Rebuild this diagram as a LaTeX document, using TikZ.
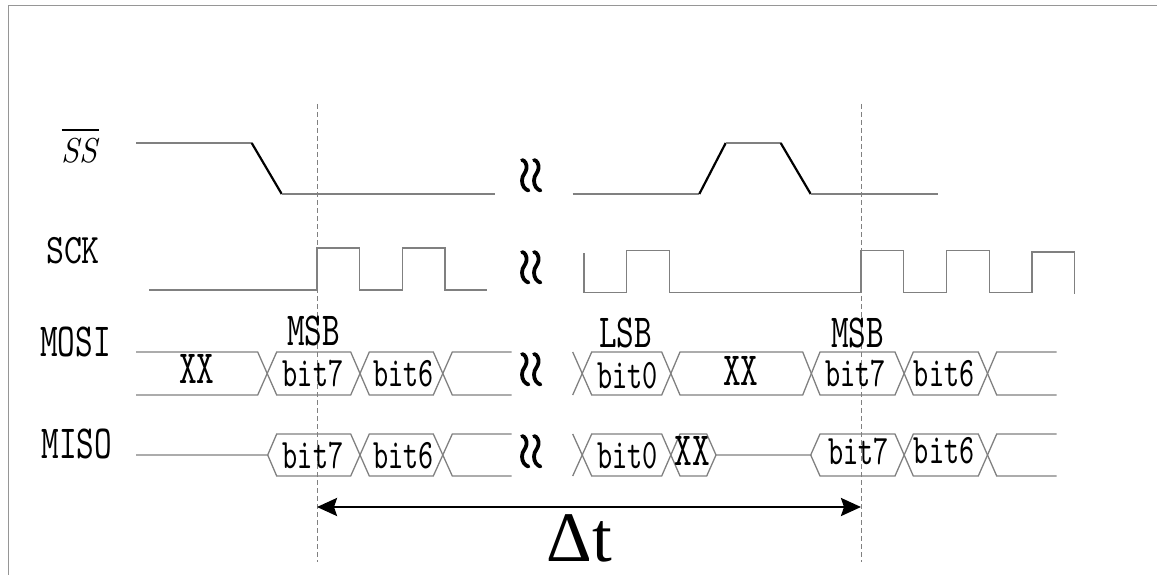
\documentclass[tikz,border=0pt]{standalone}
\usepackage{fontspec}
\usepackage{graphicx}
\usetikzlibrary{arrows.meta}
\newfontfamily\dtfont{Liberation Serif}
\newcommand{\mylbl}[1]{\scalebox{3.36}[4.75]{\normalsize\ttfamily #1}}
\newcommand{\mysck}[1]{\scalebox{3.42}[4.2]{\normalsize\ttfamily #1}}
\newcommand{\mybit}[1]{\scalebox{2.88}[4.2]{\normalsize\ttfamily #1}}
\newcommand{\myss}[1]{\scalebox{3.2}[3.45]{\normalsize\itshape #1}}
\definecolor{siggray}{RGB}{128,128,128}
\definecolor{framegray}{RGB}{150,150,150}
\tikzset{
  sig/.style={draw=siggray, line width=1.3pt, line join=miter},
  edgeline/.style={draw=black, line width=2.2pt},
  guide/.style={draw=siggray, line width=1pt, dash pattern=on 5pt off 3pt},
  frameline/.style={draw=framegray, line width=1pt},
  txt/.style={inner sep=0pt, anchor=base, text=black},
  brk/.pic={
    \draw[line width=3.8pt, line cap=round, black]
      (0,0) .. controls (3,0.5) and (5,4) .. (4.5,8.5)
            .. controls (4,13) and (0,15) .. (0,20.5)
            .. controls (0,26) and (3,29.5) .. (6.5,30.5);
  }
}
\begin{document}
\begin{tikzpicture}[x=1pt, y=-1pt]
\useasboundingbox (0,0) rectangle (1157,575);
% frame
\draw[frameline] (8,575) -- (8,6) -- (1157,6);

% guides
\draw[guide] (317,104) -- (317,562);
\draw[guide] (861,104) -- (861,562);

% labels
\node[txt] (ss) at (79.5,162.3) {\myss{SS}};
\draw[black, line width=1.4pt] (61.7,130) -- (99.3,130);
\node[txt] (sck) at (73,263.3) {\mysck{SCK}};
\node[txt] (mosi) at (75.5,356.7) {\mylbl{MOSI}};
\node[txt] (miso) at (76.7,458.3) {\mylbl{MISO}};

% SS waveform
\draw[sig] (136,143) -- (251.7,143);
\draw[edgeline] (251.7,143) -- (281.7,194);
\draw[sig] (281.7,194) -- (495,194);
\draw[sig] (572.7,194) -- (699.3,194);
\draw[edgeline] (699.3,194) -- (725.7,143);
\draw[sig] (725.7,143) -- (780.7,143);
\draw[edgeline] (780.7,143) -- (810.7,194);
\draw[sig] (810.7,194) -- (937.7,194);

% SCK waveform
\draw[sig] (149.3,290) -- (317,290) -- (317,248) -- (359.3,248) -- (359.3,290)
  -- (402.3,290) -- (402.3,248) -- (445,248) -- (445,290) -- (487.3,290);
\draw[sig] (584,253) -- (584,292.5) -- (626.7,292.5) -- (626.7,250.5) -- (669.3,250.5)
  -- (669.3,292.5) -- (861,292.5) -- (861,250.5) -- (903.3,250.5) -- (903.3,292.5)
  -- (946.7,292.5) -- (946.7,250.5) -- (989.3,250.5) -- (989.3,292.5) -- (1032,292.5)
  -- (1032,252) -- (1074.3,252) -- (1074.3,294);

% MOSI waveform (T=352, B=395)
\draw[sig] (136,352) -- (257.7,352) -- (276.7,395) -- (350.7,395) -- (369.3,352)
  -- (433.3,352) -- (452.3,395) -- (511.7,395);
\draw[sig] (136,395) -- (257.7,395) -- (276.7,352) -- (350.7,352) -- (369.3,395)
  -- (433.3,395) -- (452.3,352) -- (511.7,352);
\draw[sig] (572.7,352) -- (591.7,395) -- (661.7,395) -- (680,352) -- (802.7,352)
  -- (820,395) -- (895,395) -- (913.3,352) -- (978.3,352) -- (996.7,395) -- (1056.7,395);
\draw[sig] (572.7,395) -- (591.7,352) -- (661.7,352) -- (680,395) -- (802.7,395)
  -- (820,352) -- (895,352) -- (913.3,395) -- (978.3,395) -- (996.7,352) -- (1056.7,352);

% MISO waveform (T=434, B=476, M=455)
\draw[sig] (136,455) -- (267.7,455) -- (276.7,434) -- (350.7,434) -- (369.3,476)
  -- (433.3,476) -- (452.3,434) -- (511.7,434);
\draw[sig] (267.7,455) -- (276.7,476) -- (350.7,476) -- (369.3,434)
  -- (433.3,434) -- (452.3,476) -- (511.7,476);
\draw[sig] (572.7,434) -- (591.7,476) -- (661.7,476) -- (680,434) -- (706.7,434)
  -- (716,455) -- (810.7,455) -- (820,434) -- (895,434) -- (913.3,476)
  -- (978.3,476) -- (996.7,434) -- (1056.7,434);
\draw[sig] (572.7,476) -- (591.7,434) -- (661.7,434) -- (680,476) -- (706.7,476)
  -- (716,455);
\draw[sig] (810.7,455) -- (820,476) -- (895,476) -- (913.3,434) -- (978.3,434)
  -- (996.7,476) -- (1056.7,476);

% break marks
\foreach \yy in {160,252,354,436}{
  \pic at (522,\yy) {brk};
  \pic at (534,\yy) {brk};
}

% data texts
\node[txt] (msbl) at (313.7,345) {\mylbl{MSB}};
\node[txt] (lsb) at (625.8,347) {\mylbl{LSB}};
\node[txt] (msbr) at (857.8,347) {\mylbl{MSB}};
\node[txt] (xxa) at (196.7,383.3) {\mylbl{XX}};
\node[txt] (xxb) at (740.8,385) {\mylbl{XX}};
\node[txt] (xxc) at (692.5,465) {\mylbl{XX}};
\node[txt] (mo7a) at (313,386.7) {\mybit{bit7}};
\node[txt] (mo6a) at (403.3,386.7) {\mybit{bit6}};
\node[txt] (mo0) at (627.5,388) {\mybit{bit0}};
\node[txt] (mo7b) at (855.8,386) {\mybit{bit7}};
\node[txt] (mo6b) at (944.2,386) {\mybit{bit6}};
\node[txt] (mi7a) at (313,468) {\mybit{bit7}};
\node[txt] (mi6a) at (403.3,468) {\mybit{bit6}};
\node[txt] (mi0) at (627.5,468) {\mybit{bit0}};
\node[txt] (mi7b) at (858.3,464) {\mybit{bit7}};
\node[txt] (mi6b) at (944.2,463) {\mybit{bit6}};

% delta t
\coordinate (dl) at (317,507);
\coordinate (dr) at (861,507);
\draw[black, line width=2.6pt, {Stealth[length=20pt,width=18pt,inset=3pt]}-{Stealth[length=20pt,width=18pt,inset=3pt]}] (dl) -- (dr);
\node[txt, font=\fontsize{71}{71}\selectfont\dtfont] (dt) at (579.5,561) {Δt};
\end{tikzpicture}
\end{document}
